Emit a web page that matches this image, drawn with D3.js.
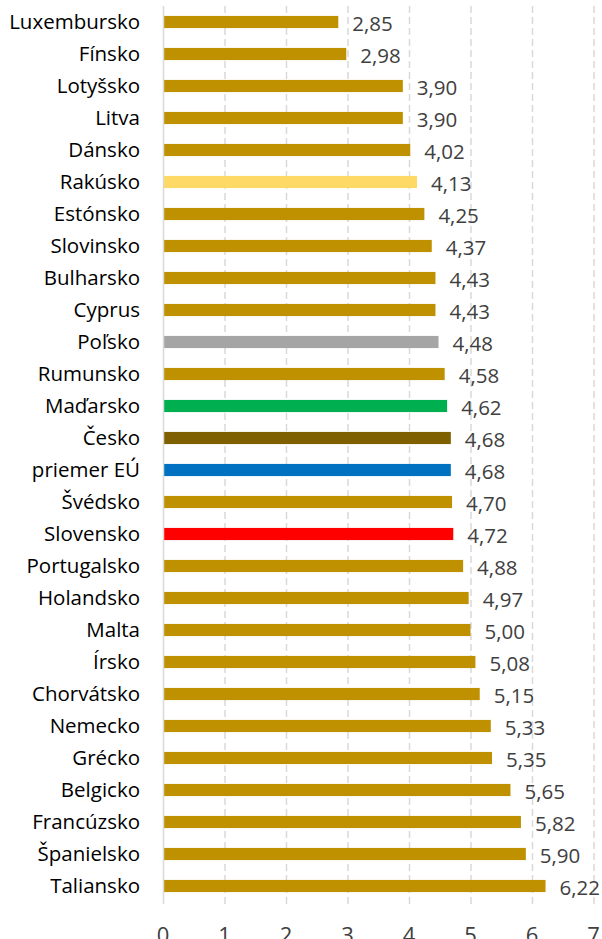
<!DOCTYPE html>
<html>
<head>
<meta charset="utf-8">
<script src="https://cdn.jsdelivr.net/npm/d3@7"></script>
<style>
  body { margin: 0; background: #fff; }
  svg text { font-family: "Open Sans", Lato, sans-serif; }
</style>
</head>
<body>
<svg id="chart"></svg>
<script>
// countries, top to bottom
var countries = ["Luxembursko", "Fínsko", "Lotyšsko", "Litva", "Dánsko", "Rakúsko", "Estónsko",
    "Slovinsko", "Bulharsko", "Cyprus", "Poľsko", "Rumunsko", "Maďarsko", "Česko", "priemer EÚ",
    "Švédsko", "Slovensko", "Portugalsko", "Holandsko", "Malta", "Írsko", "Chorvátsko", "Nemecko",
    "Grécko", "Belgicko", "Francúzsko", "Španielsko", "Taliansko"];
var values = [2.85, 2.98, 3.90, 3.90, 4.02, 4.13, 4.25, 4.37, 4.43, 4.43, 4.48, 4.58, 4.62, 4.68,
    4.68, 4.70, 4.72, 4.88, 4.97, 5.00, 5.08, 5.15, 5.33, 5.35, 5.65, 5.82, 5.90, 6.22];
var xTicks = [0, 1, 2, 3, 4, 5, 6, 7];

// highlighted bars
var highlight = {
    "Rakúsko": "#FFD966",
    "Poľsko": "#A5A5A5",
    "Maďarsko": "#00B050",
    "Česko": "#7F6000",
    "priemer EÚ": "#0070C0",
    "Slovensko": "#FF0000"
};
var defaultColor = "#BF9000";

var width = 602, height = 939;
var margin = {top: 6, right: 9, bottom: 37, left: 163};

var svg = d3.select("#chart")
    .attr("width", width)
    .attr("height", height);

var x = d3.scaleLinear()
    .domain([0, 7])
    .range([margin.left, margin.left + 7 * 61.5]);

var y = d3.scaleBand()
    .domain(countries)
    .range([margin.top, margin.top + 32 * countries.length])
    .paddingInner(0.62)
    .paddingOuter(0.31);

var plotBottom = margin.top + 32 * countries.length;

// dashed grid
svg.append("g")
    .selectAll("line")
    .data(xTicks.slice(1))
    .enter()
    .append("line")
    .attr("x1", function(d) { return x(d) + 0.5; })
    .attr("x2", function(d) { return x(d) + 0.5; })
    .attr("y1", margin.top)
    .attr("y2", plotBottom + 2)
    .attr("stroke", "#D9D9D9")
    .attr("stroke-width", 1.5)
    .attr("stroke-dasharray", "7,4");

// bars
svg.append("g")
    .selectAll("rect")
    .data(countries)
    .enter()
    .append("rect")
    .attr("x", x(0))
    .attr("y", function(d) { return y(d); })
    .attr("width", function(d, i) { return x(values[i]) - x(0); })
    .attr("height", y.bandwidth())
    .attr("fill", function(d) { return highlight[d] || defaultColor; });

// vertical axis line
svg.append("line")
    .attr("x1", x(0) + 0.5)
    .attr("x2", x(0) + 0.5)
    .attr("y1", margin.top)
    .attr("y2", plotBottom + 2)
    .attr("stroke", "#D9D9D9")
    .attr("stroke-width", 1.5);

// category labels
svg.append("g")
    .selectAll("text")
    .data(countries)
    .enter()
    .append("text")
    .attr("x", 140)
    .attr("y", function(d) { return y(d) + y.bandwidth() / 2; })
    .attr("dy", "0.35em")
    .attr("text-anchor", "end")
    .attr("font-size", 20.5)
    .attr("fill", "#000")
    .text(function(d) { return d; });

// value labels
var fmt = function(v) { return v.toFixed(2).replace(".", ","); };
svg.append("g")
    .selectAll("text")
    .data(countries)
    .enter()
    .append("text")
    .attr("x", function(d, i) { return x(values[i]) + 14; })
    .attr("y", function(d) { return y(d) + y.bandwidth() / 2 + 2; })
    .attr("dy", "0.35em")
    .attr("font-size", 20.5)
    .attr("fill", "#404040")
    .text(function(d, i) { return fmt(values[i]); });

// x tick labels (cut off at the bottom edge, as in the original)
svg.append("g")
    .selectAll("text")
    .data(xTicks)
    .enter()
    .append("text")
    .attr("x", function(d) { return x(d); })
    .attr("y", 943)
    .attr("text-anchor", "middle")
    .attr("font-size", 22)
    .attr("fill", "#404040")
    .text(function(d) { return d; });
</script>
</body>
</html>
